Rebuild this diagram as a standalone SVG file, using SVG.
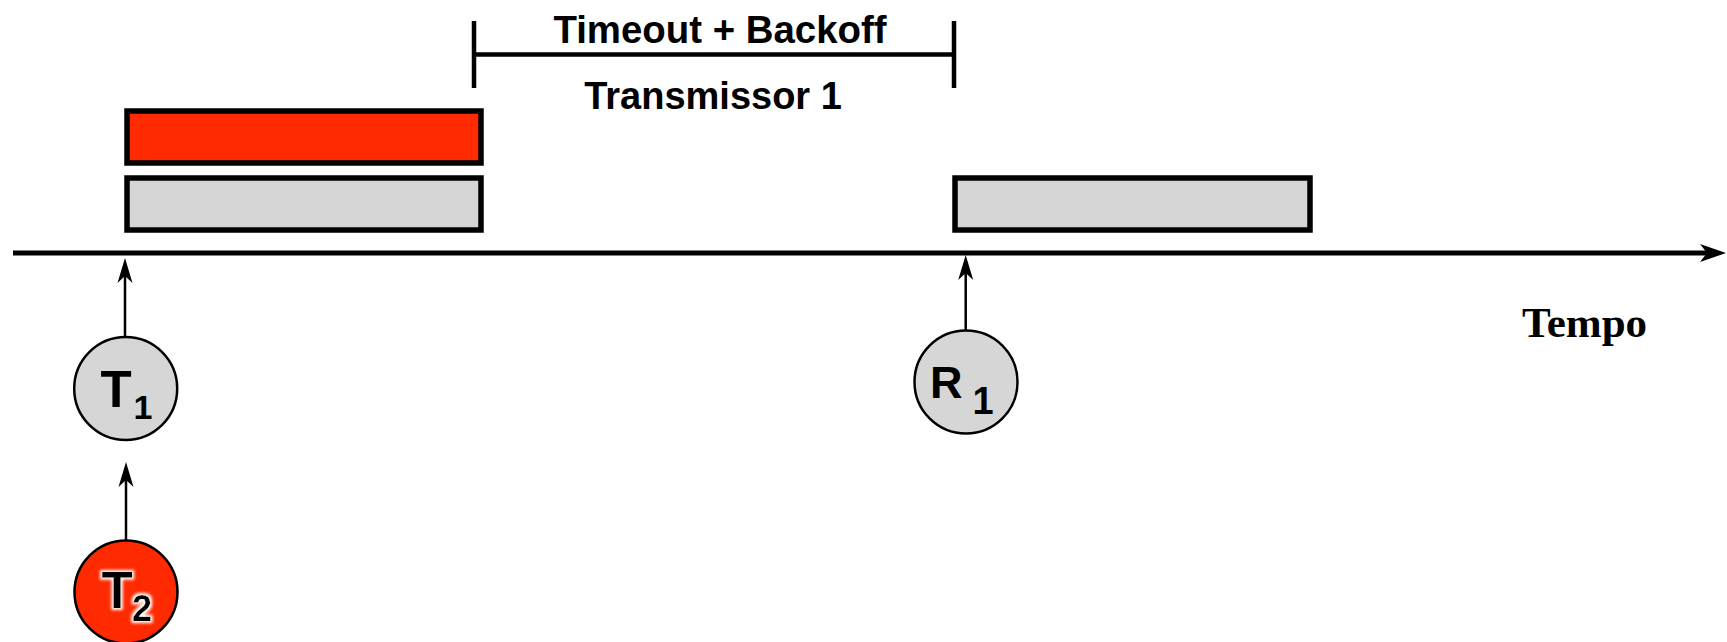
<svg xmlns="http://www.w3.org/2000/svg" width="1727" height="642" viewBox="0 0 1727 642">
<style>
.bar{stroke:#000;stroke-width:5.5}
.gray{fill:#d6d6d6}
.red{fill:#ff2a00}
.node{stroke:#000;stroke-width:2.5}
.lbl{font-family:"Liberation Sans",Arial,sans-serif;font-weight:bold;fill:#000}
.conn{stroke:#000;stroke-width:2.5;fill:none}
.brk{stroke:#000;stroke-width:4.5;fill:none}
</style>
<defs>
<marker id="arr" markerUnits="userSpaceOnUse" markerWidth="30" markerHeight="20" viewBox="-12 -10 30 20" refX="0" refY="0" orient="auto" overflow="visible">
<path d="M15,0 L-10,-7.5 L-3,0 L-10,7.5 Z" fill="#000"/>
</marker>
<marker id="axarr" markerUnits="userSpaceOnUse" markerWidth="34" markerHeight="24" viewBox="-16 -12 34 24" refX="0" refY="0" orient="auto" overflow="visible">
<path d="M14,0 L-12,-9 L-5,0 L-12,9 Z" fill="#000"/>
</marker>
<filter id="halo" x="-30%" y="-30%" width="160%" height="160%">
<feMorphology in="SourceAlpha" operator="dilate" radius="1.5" result="d"/>
<feGaussianBlur in="d" stdDeviation="1.5" result="b"/>
<feFlood flood-color="#fff"/>
<feComposite in2="b" operator="in" result="w"/>
<feMerge><feMergeNode in="w"/><feMergeNode in="SourceGraphic"/></feMerge>
</filter>
</defs>

<g id="axis">
<line x1="13" y1="253" x2="1712" y2="253" stroke="#000" stroke-width="5" marker-end="url(#axarr)"/>
<text x="1522" y="337" font-family="'Liberation Serif','Times New Roman',serif" font-weight="bold" font-size="43">Tempo</text>
</g>

<g id="bracket">
<line class="brk" x1="474" y1="21" x2="474" y2="88"/>
<line class="brk" x1="954" y1="21" x2="954" y2="88"/>
<line class="brk" x1="474" y1="54.5" x2="954" y2="54.5"/>
<text class="lbl" x="720" y="42.5" font-size="38.4" text-anchor="middle">Timeout + Backoff</text>
<text class="lbl" x="713" y="108.5" font-size="38" text-anchor="middle">Transmissor 1</text>
</g>

<g id="frame-t2">
<rect class="bar red" x="127" y="111" width="354" height="52"/>
</g>
<g id="frame-t1">
<rect class="bar gray" x="127" y="178" width="354" height="52"/>
</g>
<g id="frame-r1">
<rect class="bar gray" x="955" y="178" width="355" height="52"/>
</g>

<g id="connectors">
<line class="conn" x1="125" y1="337" x2="125" y2="273" marker-end="url(#arr)"/>
<line class="conn" x1="126" y1="540" x2="126" y2="477" marker-end="url(#arr)"/>
<line class="conn" x1="965.7" y1="330" x2="965.7" y2="270" marker-end="url(#arr)"/>
</g>

<g id="node-t1">
<circle class="node gray" cx="125.7" cy="388.5" r="51.5"/>
<text class="lbl" x="100.5" y="406.7" font-size="51">T</text>
<text class="lbl" x="133.5" y="419" font-size="34">1</text>
</g>

<g id="node-t2">
<circle class="node red" cx="126" cy="592" r="51.5"/>
<g filter="url(#halo)">
<text class="lbl" x="101.5" y="608.3" font-size="51">T</text>
<text class="lbl" x="132" y="621" font-size="36">2</text>
</g>
</g>

<g id="node-r1">
<circle class="node gray" cx="966" cy="382" r="51.5"/>
<text class="lbl" x="930" y="398.3" font-size="45">R</text>
<text class="lbl" x="972.5" y="414" font-size="38">1</text>
</g>
</svg>
